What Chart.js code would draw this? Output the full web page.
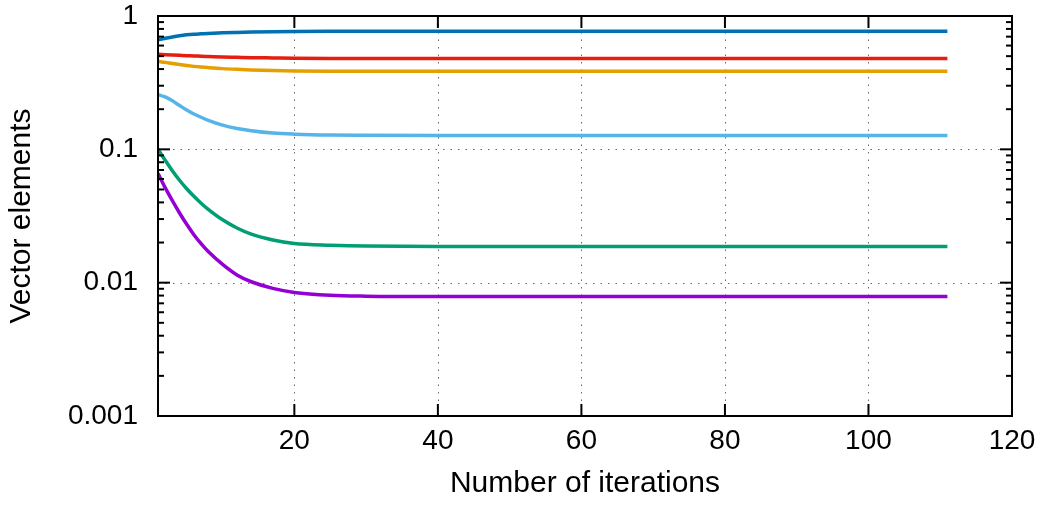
<!DOCTYPE html>
<html>
<head>
<meta charset="utf-8">
<script src="https://cdn.jsdelivr.net/npm/chart.js@4/dist/chart.umd.min.js"></script>
<style>
  html, body { margin: 0; padding: 0; background: #fff; }
  #wrap { width: 1048px; height: 506px; }
</style>
</head>
<body>
<div id="wrap"><canvas id="chart-section" width="1048" height="506"></canvas></div>
<script>
// values (log scale)
const iterations = [1, 2, 3, 4, 5, 6, 7, 8, 10, 12, 14, 17, 20, 25, 30, 40, 111]
const darkBlue  = [0.662, 0.681, 0.697, 0.711, 0.722, 0.730, 0.735, 0.740, 0.748, 0.753, 0.757, 0.761, 0.764, 0.767, 0.768, 0.768, 0.768]
const red       = [0.516, 0.513, 0.510, 0.507, 0.504, 0.502, 0.499, 0.497, 0.493, 0.490, 0.487, 0.485, 0.483, 0.481, 0.480, 0.479, 0.479]
const orange    = [0.457, 0.449, 0.440, 0.432, 0.425, 0.419, 0.414, 0.410, 0.403, 0.398, 0.394, 0.390, 0.387, 0.385, 0.385, 0.385, 0.385]
const lightBlue = [0.257, 0.247, 0.231, 0.213, 0.197, 0.184, 0.174, 0.165, 0.152, 0.1435, 0.138, 0.1325, 0.130, 0.128, 0.1275, 0.127, 0.127]
const green     = [0.100, 0.0828, 0.0692, 0.0586, 0.0506, 0.0444, 0.0394, 0.0355, 0.0296, 0.0257, 0.0231, 0.0209, 0.0197, 0.0191, 0.0188, 0.0187, 0.0187]
const purple    = [0.0660, 0.0516, 0.0412, 0.0333, 0.0274, 0.0229, 0.0196, 0.0171, 0.0137, 0.01143, 0.01016, 0.00906, 0.00845, 0.00804, 0.00792, 0.00787, 0.00787]

const xTicks = [20, 40, 60, 80, 100, 120]
const yTicks = [0.001, 0.01, 0.1, 1]

const series = [
  { values: darkBlue, color: '#0072b2' },
  { values: red, color: '#e51e10' },
  { values: orange, color: '#e69f00' },
  { values: lightBlue, color: '#56b4e9' },
  { values: green, color: '#009e73' },
  { values: purple, color: '#9400d3' },
]

const family = '"Liberation Sans", Arial, Helvetica, sans-serif'
const tickFont = { family, size: 28 }
const titleFont = { family, size: 30 }

// gnuplot-like frame, inward ticks and dotted grid
const frame = {
  id: 'frame',
  beforeDatasetsDraw(chart) {
    const { ctx, chartArea: a, scales: { x, y } } = chart
    ctx.save()
    ctx.strokeStyle = '#666'
    ctx.lineWidth = 1
    ctx.setLineDash([1.5, 6])
    xTicks.forEach(v => {
      if (v >= 120) return
      const px = Math.round(x.getPixelForValue(v)) + 0.5
      ctx.beginPath(); ctx.moveTo(px, a.bottom); ctx.lineTo(px, a.top); ctx.stroke()
    })
    yTicks.forEach(v => {
      if (v === 1 || v === 0.001) return
      const py = Math.round(y.getPixelForValue(v)) + 0.5
      ctx.beginPath(); ctx.moveTo(a.left, py); ctx.lineTo(a.right, py); ctx.stroke()
    })
    ctx.restore()
  },
  afterDatasetsDraw(chart) {
    const { ctx, chartArea: a, scales: { x, y } } = chart
    ctx.save()
    ctx.strokeStyle = '#000'
    ctx.lineWidth = 2
    const seg = (x1, y1, x2, y2) => { ctx.beginPath(); ctx.moveTo(x1, y1); ctx.lineTo(x2, y2); ctx.stroke() }
    xTicks.forEach(v => {
      const px = x.getPixelForValue(v)
      seg(px, a.bottom, px, a.bottom - 12)
      seg(px, a.top, px, a.top + 12)
    })
    for (let d = 0.001; d < 1.5; d *= 10) {
      for (let m = 1; m <= 9; m++) {
        const v = d * m
        if (v > 1.0001) break
        const py = y.getPixelForValue(v)
        const len = m === 1 ? 12 : 6
        seg(a.left, py, a.left + len, py)
        seg(a.right, py, a.right - len, py)
      }
    }
    ctx.strokeRect(a.left, a.top, a.right - a.left, a.bottom - a.top)
    ctx.restore()
  }
}

new Chart(document.getElementById('chart-section'), {
  type: 'line',
  data: {
    datasets: series.map(s => ({
      data: iterations.map((it, i) => ({ x: it, y: s.values[i] })),
      borderColor: s.color,
      borderWidth: 3.5,
      pointRadius: 0,
      cubicInterpolationMode: 'monotone',
      fill: false
    }))
  },
  options: {
    responsive: false,
    animation: false,
    devicePixelRatio: 1,
    layout: { padding: { top: 16, right: 36, left: 0, bottom: 0 } },
    plugins: { legend: { display: false }, tooltip: { enabled: false } },
    scales: {
      x: {
        type: 'linear',
        min: 1,
        max: 120,
        grid: { display: false, drawTicks: false },
        border: { display: false },
        afterBuildTicks: s => { s.ticks = xTicks.map(v => ({ value: v })) },
        afterFit: s => { s.height = 90; s.paddingLeft = 0; s.paddingRight = 0 },
        ticks: { color: '#000', font: tickFont, padding: 8, maxRotation: 0, callback: v => String(v) },
        title: { display: true, text: 'Number of iterations', color: '#000', font: titleFont, padding: { top: 0, bottom: 4 } }
      },
      y: {
        type: 'logarithmic',
        min: 0.001,
        max: 1,
        grid: { display: false, drawTicks: false },
        border: { display: false },
        afterBuildTicks: s => { s.ticks = yTicks.map(v => ({ value: v })) },
        afterFit: s => { s.width = 158; s.paddingTop = 0; s.paddingBottom = 0 },
        ticks: { color: '#000', font: tickFont, padding: 20, callback: v => String(v) },
        title: { display: true, text: 'Vector elements', color: '#000', font: titleFont, padding: { top: 4, bottom: 0 } }
      }
    }
  },
  plugins: [frame]
})
</script>
</body>
</html>
